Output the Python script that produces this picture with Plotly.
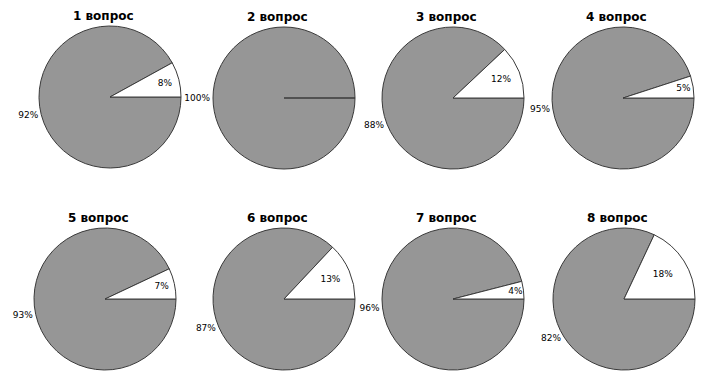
import plotly.graph_objects as go

W, H = 706, 388

titles = ["1 вопрос", "2 вопрос", "3 вопрос", "4 вопрос",
          "5 вопрос", "6 вопрос", "7 вопрос", "8 вопрос"]
major_values = [92, 100, 88, 95, 93, 87, 96, 82]
minor_values = [8, 0, 12, 5, 7, 13, 4, 18]
slice_names = ["основное", "другое"]

# layout: pie centres (px) and radius
centers_x = [110, 284, 453, 623, 105, 284, 453, 624]
centers_y = [97, 98, 98, 98, 299, 299, 299, 299]
radius = 71

fig = go.Figure()
for i in range(8):
    cx, cy = centers_x[i], centers_y[i]
    vals = [major_values[i], minor_values[i]]
    texts = [f"{v}%" if v > 0 else "" for v in vals]
    fig.add_trace(go.Pie(
        labels=slice_names,
        values=vals,
        text=texts,
        textinfo="text",
        textposition=["outside", "inside"],
        insidetextorientation="horizontal",
        sort=False,
        direction="clockwise",
        rotation=90,
        marker=dict(colors=["#969696", "#ffffff"],
                    line=dict(color="#3a3a3a", width=1)),
        textfont=dict(family="DejaVu Sans", size=9, color="#000000"),
        hoverinfo="label+value",
        showlegend=False,
        domain=dict(x=[(cx - radius) / W, (cx + radius) / W],
                    y=[1 - (cy + radius) / H, 1 - (cy - radius) / H]),
    ))
    fig.add_annotation(
        x=(cx - 39) / W, y=1 - (cy - 81) / H, xref="paper", yref="paper",
        xanchor="left", yanchor="middle", showarrow=False,
        text=f"<b>{titles[i]}</b>",
        font=dict(family="DejaVu Sans", size=12, color="#000000"),
    )

fig.update_layout(
    width=W, height=H,
    margin=dict(l=0, r=0, t=0, b=0),
    paper_bgcolor="#ffffff", plot_bgcolor="#ffffff",
    uniformtext=dict(minsize=9, mode="show"),
)
fig.write_html("out.html", config={"displayModeBar": False},
               post_script="document.body.style.margin='0';")
